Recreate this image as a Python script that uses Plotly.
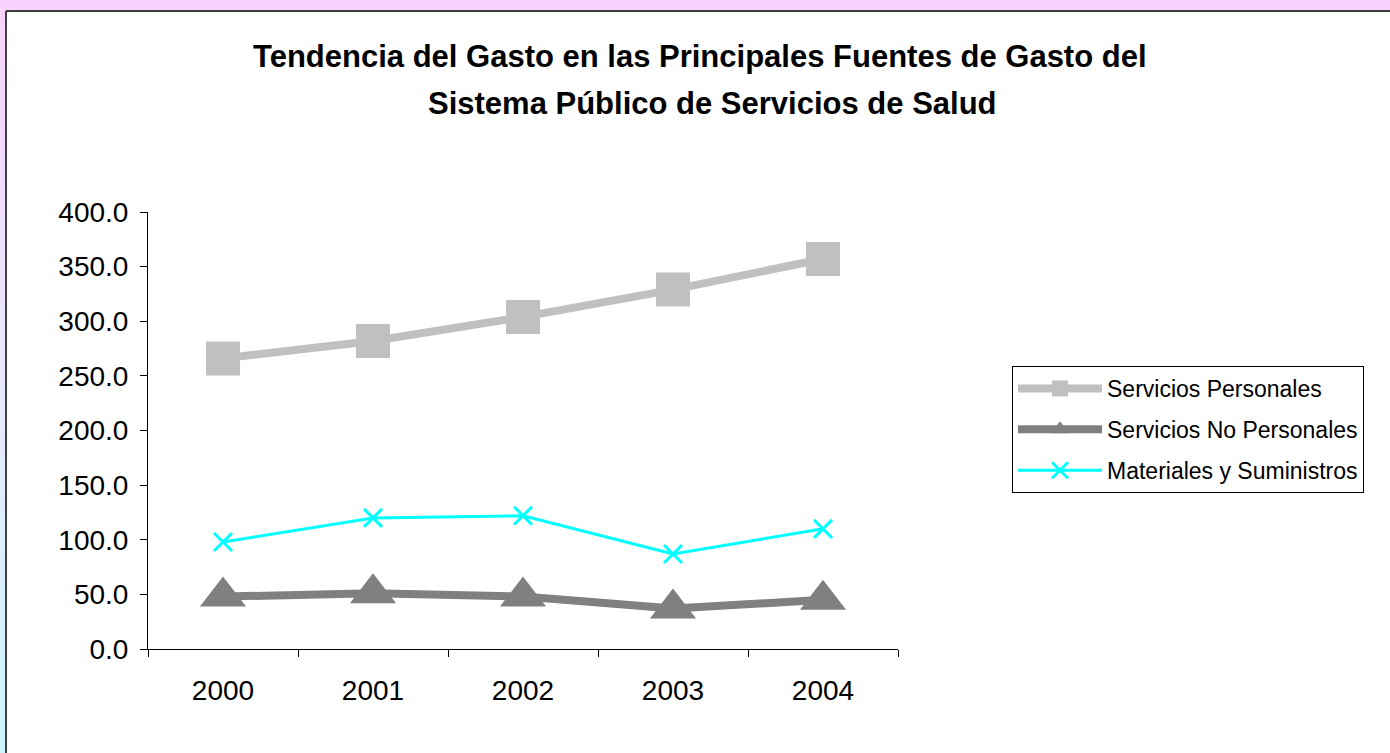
import plotly.graph_objects as go

years = ["2000", "2001", "2002", "2003", "2004"]
servicios_personales = [266, 282, 304, 329, 357]
servicios_no_personales = [48, 51, 48, 37, 45]
materiales_suministros = [98, 120, 122, 87, 110]
y_ticks = [0, 50, 100, 150, 200, 250, 300, 350, 400]
title_lines = ["Tendencia del Gasto en las Principales Fuentes de Gasto del",
               "Sistema Público de Servicios de Salud"]

W, H = 1390, 753
L, R, T, B = 148, 898, 212, 649
FONT = "Liberation Sans, Arial, sans-serif"


def px(x):
    return (x - L) / (R - L)


def py(y):
    return (B - y) / (B - T)


fig = go.Figure()
fig.add_trace(go.Scatter(
    x=years, y=servicios_personales, name="Servicios Personales", mode="lines+markers",
    line=dict(color="#c0c0c0", width=8), legendgroup="a",
    marker=dict(symbol="square", size=34, color="#c0c0c0")))
fig.add_trace(go.Scatter(
    x=years, y=servicios_no_personales, name="Servicios No Personales", mode="lines+markers",
    line=dict(color="#808080", width=8), legendgroup="b",
    marker=dict(symbol="triangle-up", size=40, color="#808080")))
fig.add_trace(go.Scatter(
    x=years, y=materiales_suministros, name="Materiales y Suministros", mode="lines+markers",
    line=dict(color="#00ffff", width=3), legendgroup="c",
    marker=dict(symbol="x-thin", size=18, color="#00ffff", line=dict(color="#00ffff", width=3))))

shapes = []
# top strip
shapes.append(dict(type="rect", xref="paper", yref="paper", x0=px(0), x1=px(W), y0=py(11), y1=py(0),
                   fillcolor="#f7d2fc", line=dict(width=0), layer="below"))
# left gradient strip
c_top = (247, 210, 252)
c_mid = (232, 232, 255)
c_bot = (204, 245, 255)
n = 40
for i in range(n):
    y0p = 11 + (H - 11) * i / n
    y1p = 11 + (H - 11) * (i + 1) / n
    t = (i + 0.5) / n
    if t < 0.5:
        a, b, u = c_top, c_mid, t / 0.5
    else:
        a, b, u = c_mid, c_bot, (t - 0.5) / 0.5
    c = tuple(int(round(a[k] + (b[k] - a[k]) * u)) for k in range(3))
    shapes.append(dict(type="rect", xref="paper", yref="paper", x0=px(0), x1=px(6),
                       y0=py(y1p + 1), y1=py(y0p), fillcolor="rgb(%d,%d,%d)" % c,
                       line=dict(width=0), layer="below"))
# frame border
shapes.append(dict(type="line", xref="paper", yref="paper", x0=px(6), x1=px(W + 5), y0=py(11), y1=py(11),
                   line=dict(color="#404040", width=2), layer="below"))
shapes.append(dict(type="line", xref="paper", yref="paper", x0=px(6), x1=px(6), y0=py(11), y1=py(H + 5),
                   line=dict(color="#404040", width=2), layer="below"))

annotations = [
    dict(text="<b>%s</b>" % title_lines[0], xref="paper", yref="paper", x=px(700), y=py(57),
         xanchor="center", yanchor="middle", showarrow=False, font=dict(family=FONT, size=31, color="#000")),
    dict(text="<b>%s</b>" % title_lines[1], xref="paper", yref="paper", x=px(712), y=py(103),
         xanchor="center", yanchor="middle", showarrow=False, font=dict(family=FONT, size=31, color="#000")),
]

fig.update_layout(
    width=W, height=H,
    margin=dict(l=L, r=W - R, t=T, b=H - B, pad=0),
    paper_bgcolor="white", plot_bgcolor="white",
    font=dict(family=FONT, color="#000"),
    shapes=shapes, annotations=annotations,
    showlegend=True,
    legend=dict(x=px(1012), y=py(366), xanchor="left", yanchor="top",
                bgcolor="white", bordercolor="#000", borderwidth=1,
                font=dict(family=FONT, size=23, color="#000"),
                itemwidth=84, tracegroupgap=8, traceorder="grouped"),
    xaxis=dict(type="category", range=[-0.5, 4.5], tickson="boundaries", ticks="outside",
               ticklen=7, tickcolor="#000", showline=True, linecolor="#000", linewidth=1,
               showgrid=False, zeroline=False, tickfont=dict(family=FONT, size=28, color="#000"),
               ticklabelstandoff=16),
    yaxis=dict(range=[0, 400], tickvals=y_ticks, tickformat=".1f", ticks="outside",
               ticklen=7, tickcolor="#000", showline=True, linecolor="#000", linewidth=1,
               showgrid=False, zeroline=False, tickfont=dict(family=FONT, size=28, color="#000"),
               ticklabelstandoff=6),
)

fig.write_html("out.html", config={"displayModeBar": False},
               post_script="document.body.style.margin='0';document.body.style.padding='0';")
